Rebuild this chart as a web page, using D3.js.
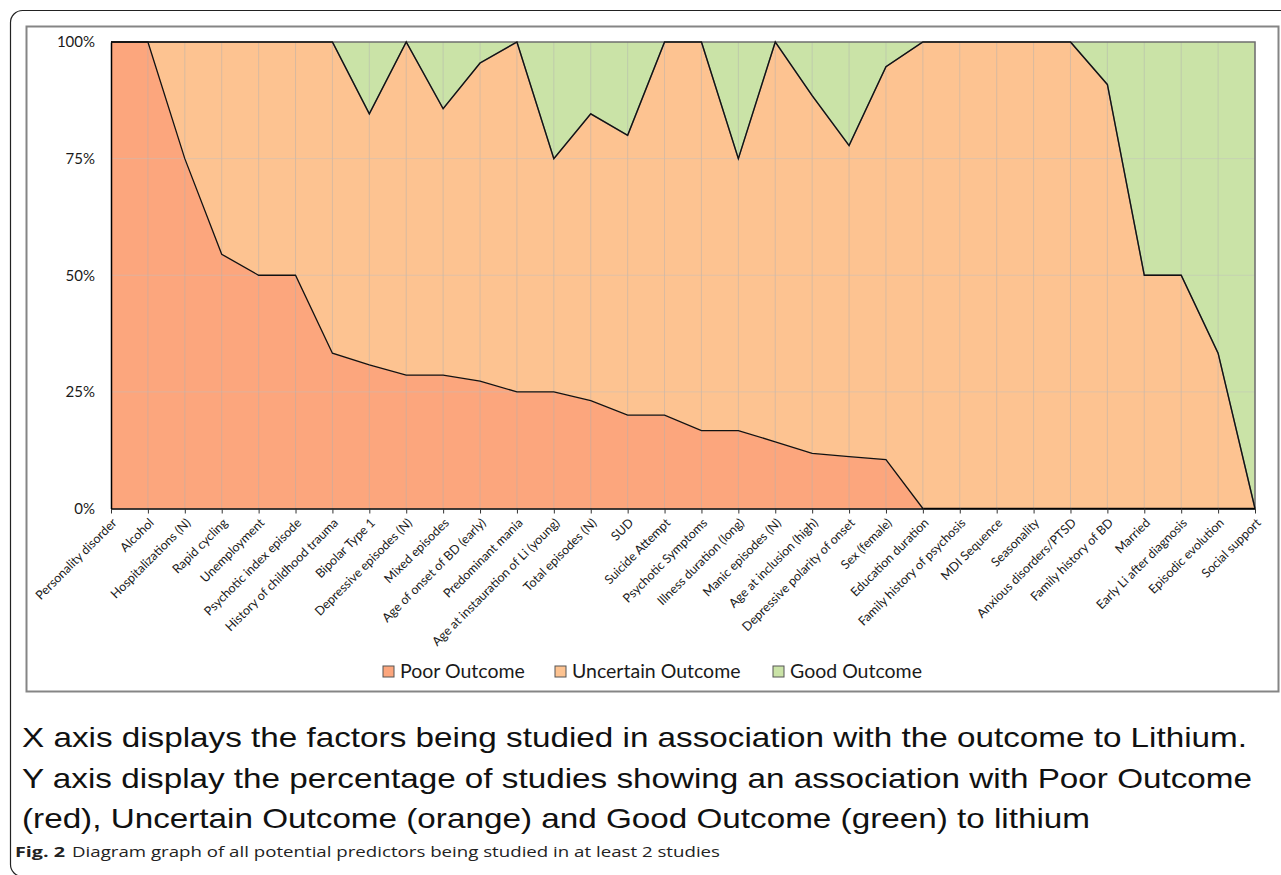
<!DOCTYPE html>
<html>
<head>
<meta charset="utf-8">
<script src="https://cdn.jsdelivr.net/npm/d3@7"></script>
<style>
  body { margin: 0; background: #fff; }
  svg { display: block; }
</style>
</head>
<body>
<script>
// factors on the x axis
const categories = [
  "Personality disorder", "Alcohol", "Hospitalizations (N)", "Rapid cycling",
  "Unemployment", "Psychotic index episode", "History of childhood trauma",
  "Bipolar Type 1", "Depressive episodes (N)", "Mixed episodes",
  "Age of onset of BD (early)", "Predominant mania", "Age at instauration of Li (young)",
  "Total episodes (N)", "SUD", "Suicide Attempt", "Psychotic Symptoms",
  "Illness duration (long)", "Manic episodes (N)", "Age at inclusion (high)",
  "Depressive polarity of onset", "Sex (female)", "Education duration",
  "Family history of psychosis", "MDI Sequence", "Seasonality",
  "Anxious disorders/PTSD", "Family history of BD", "Married",
  "Early Li after diagnosis", "Episodic evolution", "Social support"
];

// % of studies per outcome
const poorOutcome = [100, 100, 75, 54.5, 50, 50, 33.3, 30.8, 28.6, 28.6, 27.3, 25, 25, 23.1, 20, 20,
  16.7, 16.7, 14.3, 11.8, 11.1, 10.5, 0, 0, 0, 0, 0, 0, 0, 0, 0, 0];
const uncertainOutcome = [0, 0, 25, 45.5, 50, 50, 66.7, 53.8, 71.4, 57.1, 68.2, 75, 50, 61.5, 60, 80,
  83.3, 58.3, 85.7, 76.7, 66.7, 84.2, 100, 100, 100, 100, 100, 90.9, 50, 50, 33.3, 0];
const goodOutcome = [0, 0, 0, 0, 0, 0, 0, 15.4, 0, 14.3, 4.5, 0, 25, 15.4, 20, 0,
  0, 25, 0, 11.5, 22.2, 5.3, 0, 0, 0, 0, 0, 9.1, 50, 50, 66.7, 100];

const yTickValues = [0, 25, 50, 75, 100];
const yTickLabels = ["0%", "25%", "50%", "75%", "100%"];

const seriesKeys = ["poor", "uncertain", "good"];
const seriesNames = ["Poor Outcome", "Uncertain Outcome", "Good Outcome"];
const seriesColors = ["#FCA67D", "#FDC391", "#CAE3A7"];

const captionLines = [
  "X axis displays the factors being studied in association with the outcome to Lithium.",
  "Y axis display the percentage of studies showing an association with Poor Outcome",
  "(red), Uncertain Outcome (orange) and Good Outcome (green) to lithium"
];

// sizes
let svgWidth = 1281;
let svgHeight = 875;
let margin = { top: 42, left: 111 };
let width = 1144;
let height = 466.5;

var svg = d3.select("body")
  .append("svg")
  .attr("width", svgWidth)
  .attr("height", svgHeight);

// outer rounded box and chart frame
svg.append("rect")
  .attr("x", 10.5).attr("y", 10.5)
  .attr("width", 1300).attr("height", 866)
  .attr("rx", 12)
  .attr("fill", "none")
  .attr("stroke", "#222")
  .attr("stroke-width", 1.2);

svg.append("rect")
  .attr("x", 26.5).attr("y", 26.5)
  .attr("width", 1252).attr("height", 665)
  .attr("fill", "#fff")
  .attr("stroke", "#858585")
  .attr("stroke-width", 2);

var chartGroup = svg.append("g")
  .attr("transform", `translate(${margin.left}, ${margin.top})`);

// table for the stack
var table = categories.map((c, i) => ({
  category: c,
  poor: poorOutcome[i],
  uncertain: uncertainOutcome[i],
  good: goodOutcome[i]
}));

var stacked = d3.stack().keys(seriesKeys)(table);

var xScale = d3.scalePoint()
  .domain(categories)
  .range([0, width])
  .padding(0);

var yScale = d3.scaleLinear()
  .domain([0, 100])
  .range([height, 0]);

var area = d3.area()
  .x(d => xScale(d.data.category))
  .y0(d => yScale(d[0]))
  .y1(d => yScale(d[1]));

chartGroup.selectAll(".layer")
  .data(stacked)
  .enter()
  .append("path")
  .attr("class", "layer")
  .attr("d", area)
  .attr("fill", (d, i) => seriesColors[i]);

// gridlines, drawn see-through over the areas
chartGroup.selectAll(".vgrid")
  .data(categories.slice(1))
  .enter()
  .append("line")
  .attr("x1", d => xScale(d)).attr("x2", d => xScale(d))
  .attr("y1", 0).attr("y2", height)
  .attr("stroke", "rgba(175,175,175,0.45)")
  .attr("stroke-width", 1);

chartGroup.selectAll(".hgrid")
  .data(yTickValues.slice(1, 4))
  .enter()
  .append("line")
  .attr("x1", 0).attr("x2", width)
  .attr("y1", d => yScale(d)).attr("y2", d => yScale(d))
  .attr("stroke", "rgba(190,190,190,0.45)")
  .attr("stroke-width", 1);

// good outcome outline (grey), then black lines on top of poor and uncertain
chartGroup.append("path")
  .attr("d", area(stacked[2]))
  .attr("fill", "none")
  .attr("stroke", "#6f6f6f")
  .attr("stroke-width", 1.5);

var topLine = d3.line()
  .x(d => xScale(d.data.category))
  .y(d => yScale(d[1]));

chartGroup.selectAll(".edge")
  .data(stacked.slice(0, 2))
  .enter()
  .append("path")
  .attr("d", topLine)
  .attr("fill", "none")
  .attr("stroke", "#111")
  .attr("stroke-width", 1.3);

// axes
var bottomAxis = d3.axisBottom(xScale).tickSize(5).tickSizeOuter(0);
var leftAxis = d3.axisLeft(yScale)
  .tickValues(yTickValues)
  .tickFormat((d, i) => yTickLabels[i])
  .tickSize(0)
  .tickPadding(16);

var xAxisG = chartGroup.append("g")
  .attr("transform", `translate(0, ${height})`)
  .call(bottomAxis)
  .attr("font-family", "Lato, sans-serif")
  .attr("font-size", 12.5);

xAxisG.select(".domain").attr("stroke-width", 1.5);
xAxisG.selectAll(".tick line").attr("stroke", "#333");
xAxisG.selectAll(".tick text")
  .attr("fill", "#1a1a1a")
  .attr("x", 0).attr("y", 0)
  .attr("dy", "0.35em")
  .attr("transform", "translate(3, 12) rotate(-45)")
  .style("text-anchor", "end");

var yAxisG = chartGroup.append("g")
  .call(leftAxis)
  .attr("font-family", "Lato, sans-serif")
  .attr("font-size", 15);

yAxisG.select(".domain").attr("stroke-width", 1.5);
yAxisG.selectAll(".tick text").attr("fill", "#1a1a1a");

// legend
var legendX = [383, 555, 773];
var legend = svg.selectAll(".legend")
  .data(seriesNames)
  .enter()
  .append("g")
  .attr("transform", (d, i) => `translate(${legendX[i]}, 666)`);

legend.append("rect")
  .attr("width", 11).attr("height", 11)
  .attr("fill", (d, i) => seriesColors[i])
  .attr("stroke", "#555")
  .attr("stroke-width", 1);

legend.append("text")
  .attr("x", 17).attr("y", 12)
  .attr("font-family", "Lato, sans-serif")
  .attr("font-size", 19.5)
  .attr("fill", "#1a1a1a")
  .text(d => d);

// caption under the chart
var captionWidths = [1225, 1230, 1068];
svg.selectAll(".caption")
  .data(captionLines)
  .enter()
  .append("text")
  .attr("x", 22)
  .attr("y", (d, i) => 747 + i * 40.6)
  .attr("font-family", "Liberation Sans, Arial, Roboto, sans-serif")
  .attr("font-size", 28)
  .attr("fill", "#111")
  .attr("textLength", (d, i) => captionWidths[i])
  .attr("lengthAdjust", "spacingAndGlyphs")
  .text(d => d);

svg.append("text")
  .attr("x", 15).attr("y", 857)
  .attr("font-family", "'Open Sans', sans-serif")
  .attr("font-size", 15)
  .attr("font-weight", "bold")
  .attr("fill", "#222")
  .attr("textLength", 50)
  .attr("lengthAdjust", "spacingAndGlyphs")
  .text("Fig. 2");

svg.append("text")
  .attr("x", 72).attr("y", 857)
  .attr("font-family", "'Open Sans', sans-serif")
  .attr("font-size", 15)
  .attr("fill", "#222")
  .attr("textLength", 648)
  .attr("lengthAdjust", "spacingAndGlyphs")
  .text("Diagram graph of all potential predictors being studied in at least 2 studies");
</script>
</body>
</html>
